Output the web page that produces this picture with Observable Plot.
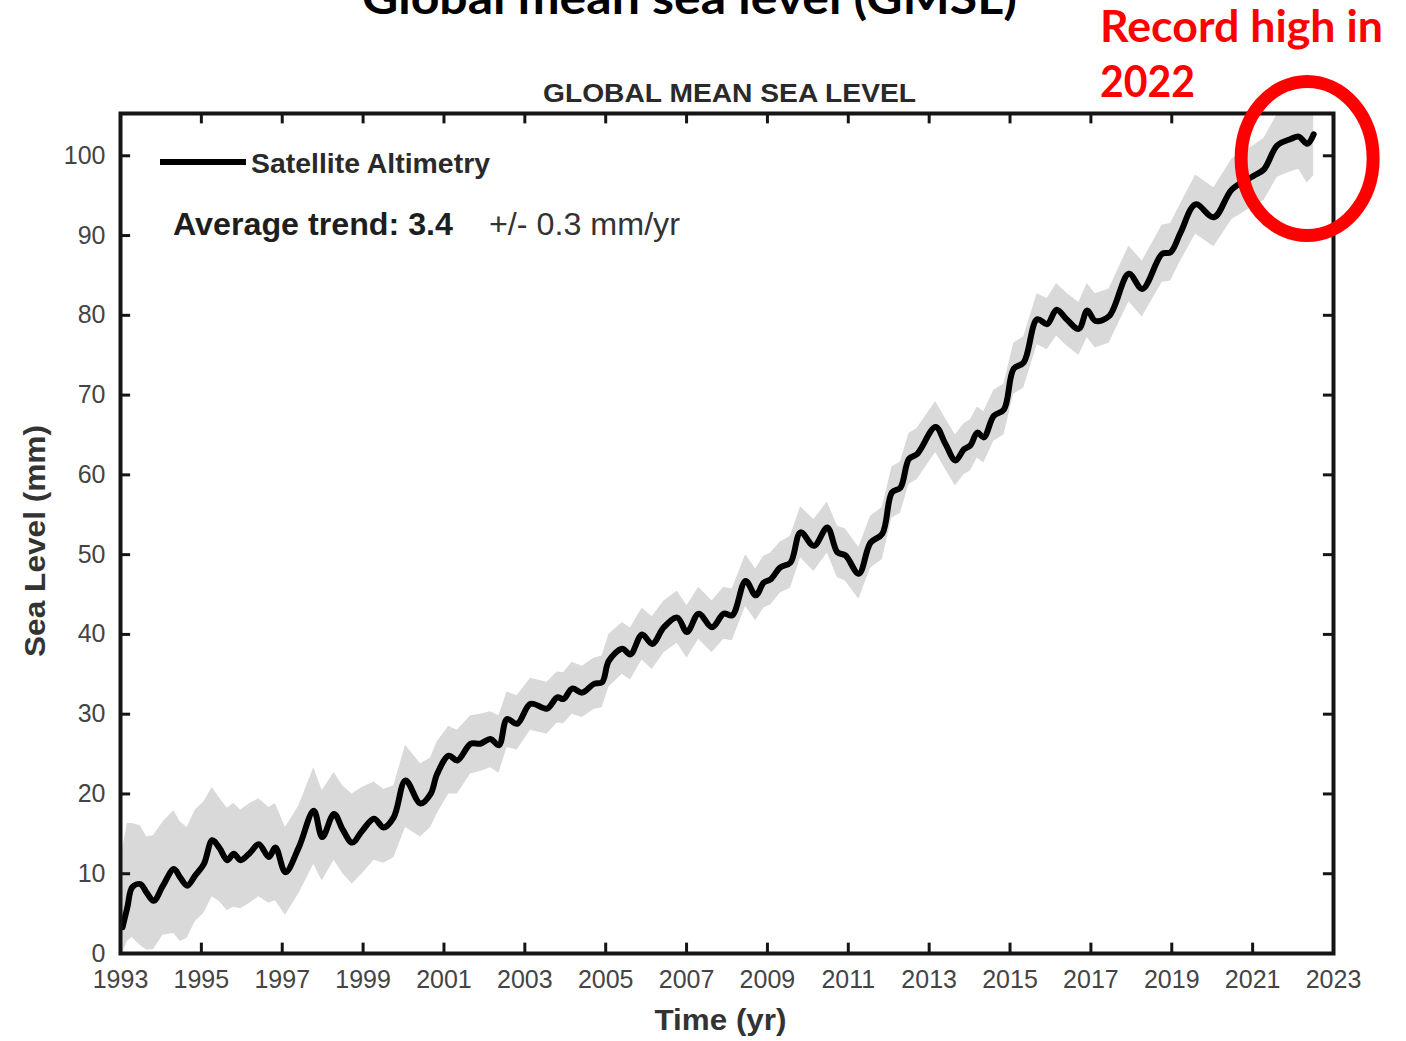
<!DOCTYPE html>
<html>
<head>
<meta charset="utf-8">
<script src="https://cdn.jsdelivr.net/npm/d3@7"></script>
<script src="https://cdn.jsdelivr.net/npm/@observablehq/plot@0.6"></script>
<style>
  html, body { margin: 0; padding: 0; background: #fff; overflow: hidden; }
  #chart { position: relative; width: 1406px; height: 1041px; }
</style>
</head>
<body>
<div id="chart"></div>
<script>
// ---- Data ----
const years = [
  1993.05, 1993.17, 1993.29, 1993.49, 1993.65, 1993.82, 1994.05, 1994.32, 1994.48, 1994.65,
  1994.85, 1995.06, 1995.27, 1995.45, 1995.64, 1995.80, 1995.97, 1996.20, 1996.42, 1996.67,
  1996.83, 1997.08, 1997.41, 1997.78, 1997.99, 1998.28, 1998.50, 1998.73, 1998.98, 1999.27,
  1999.51, 1999.76, 2000.05, 2000.42, 2000.67, 2000.83, 2001.12, 2001.33, 2001.66, 2001.90,
  2002.15, 2002.36, 2002.56, 2002.81, 2003.14, 2003.55, 2003.80, 2003.96, 2004.17, 2004.42,
  2004.71, 2004.91, 2005.08, 2005.41, 2005.61, 2005.90, 2006.15, 2006.44, 2006.77, 2007.01,
  2007.30, 2007.63, 2007.92, 2008.13, 2008.46, 2008.71, 2008.91, 2009.08, 2009.32, 2009.57,
  2009.82, 2010.15, 2010.48, 2010.73, 2010.93, 2011.26, 2011.55, 2011.84, 2012.08, 2012.29,
  2012.50, 2012.70, 2013.16, 2013.40, 2013.65, 2013.86, 2014.02, 2014.19, 2014.35, 2014.60,
  2014.85, 2015.09, 2015.34, 2015.67, 2015.92, 2016.15, 2016.40, 2016.70, 2016.91, 2017.11,
  2017.45, 2017.94, 2018.27, 2018.76, 2018.97, 2019.22, 2019.59, 2020.04, 2020.49, 2021.03,
  2021.28, 2021.61, 2021.94, 2022.14, 2022.35, 2022.51
];
const seaLevel = [
  3.3, 5.8, 8.3, 8.7, 7.6, 6.6, 8.5, 10.6, 9.5, 8.5,
  9.8, 11.2, 14.2, 13.2, 11.7, 12.5, 11.7, 12.6, 13.7, 12.1,
  13.3, 10.2, 13.3, 17.9, 14.6, 17.5, 15.5, 13.9, 15.4, 16.9,
  15.8, 17.1, 21.7, 18.8, 20.0, 22.5, 24.8, 24.2, 26.3, 26.3,
  26.9, 26.1, 29.4, 28.8, 31.3, 30.7, 32.1, 31.9, 33.2, 32.7,
  33.8, 34.0, 36.7, 38.2, 37.5, 40.0, 38.8, 40.9, 42.1, 40.3,
  42.6, 40.9, 42.6, 42.4, 46.7, 44.9, 46.5, 46.9, 48.4, 49.0,
  52.8, 51.1, 53.4, 50.3, 49.9, 47.6, 51.5, 52.6, 57.8, 58.4,
  62.0, 62.6, 66.0, 63.9, 61.8, 63.2, 63.7, 65.3, 64.7, 67.4,
  68.2, 73.3, 74.1, 79.5, 78.9, 80.7, 79.5, 78.3, 80.6, 79.3,
  79.9, 85.2, 83.3, 87.7, 87.9, 90.4, 93.9, 92.3, 95.8, 97.5,
  98.3, 101.3, 102.1, 102.4, 101.5, 102.7
];
const bandLow = [
  0.0, 1.5, 2.0, 1.0, 0.4, 0.5, 2.3, 2.5, 1.5, 1.9,
  4.0, 5.0, 7.1, 6.5, 5.4, 5.8, 5.6, 6.3, 7.1, 6.3,
  6.6, 4.8, 7.5, 11.2, 9.1, 11.7, 10.0, 8.7, 10.0, 11.7,
  11.3, 12.0, 15.8, 14.6, 15.8, 17.5, 20.0, 20.0, 22.5, 22.8,
  23.3, 22.6, 25.8, 25.5, 28.0, 27.5, 28.9, 28.8, 30.0, 29.6,
  30.6, 30.8, 33.4, 35.0, 34.3, 36.8, 35.6, 37.7, 38.9, 37.0,
  39.4, 37.7, 39.4, 39.2, 43.5, 41.7, 43.3, 43.7, 45.2, 45.8,
  49.6, 47.9, 50.2, 47.1, 46.7, 44.4, 48.3, 49.4, 54.6, 55.2,
  58.8, 59.4, 62.8, 60.7, 58.6, 60.0, 60.5, 62.1, 61.5, 64.2,
  65.0, 70.1, 70.9, 76.3, 75.7, 77.4, 76.2, 75.0, 77.2, 75.9,
  76.5, 81.7, 79.8, 84.1, 84.3, 86.8, 90.2, 88.6, 92.0, 93.7,
  94.4, 97.3, 98.0, 98.3, 96.6, 97.5
];
const bandHigh = [
  13.0, 16.3, 16.3, 16.0, 14.6, 14.8, 16.5, 17.9, 16.5, 15.8,
  18.0, 19.0, 20.8, 19.5, 18.2, 18.8, 18.0, 18.8, 19.4, 18.3,
  18.8, 15.8, 18.5, 23.3, 20.4, 22.7, 21.0, 20.0, 20.8, 21.5,
  20.6, 21.0, 26.1, 23.8, 24.5, 26.5, 28.5, 28.0, 29.8, 30.0,
  30.3, 29.8, 32.8, 32.3, 34.5, 34.0, 35.3, 35.2, 36.5, 36.0,
  37.0, 37.3, 40.0, 41.5, 40.8, 43.3, 42.2, 44.2, 45.4, 43.6,
  45.9, 44.2, 45.9, 45.7, 50.0, 48.2, 49.8, 50.2, 51.6, 52.3,
  56.0, 54.4, 56.6, 53.6, 53.2, 50.9, 54.8, 55.9, 61.0, 61.6,
  65.2, 65.8, 69.2, 67.1, 65.0, 66.4, 66.9, 68.5, 67.9, 70.6,
  71.4, 76.5, 77.3, 82.7, 82.1, 84.0, 82.8, 81.6, 84.0, 82.7,
  83.3, 88.7, 86.8, 91.3, 91.5, 94.0, 97.6, 96.0, 99.6, 101.3,
  102.2, 105.2, 106.0, 106.0, 106.0, 105.5
];
const xTickYears  = [1995, 1997, 1999, 2001, 2003, 2005, 2007, 2009, 2011, 2013, 2015, 2017, 2019, 2021];
const xLabelYears = [1993, 1995, 1997, 1999, 2001, 2003, 2005, 2007, 2009, 2011, 2013, 2015, 2017, 2019, 2021, 2023];
const yTickValues  = [10, 20, 30, 40, 50, 60, 70, 80, 90, 100];
const yLabelValues = [0, 10, 20, 30, 40, 50, 60, 70, 80, 90, 100];
const xDomain = [1993, 2023];
const yDomain = [0, 105.3];
const recordPoint = {year: 2022.36, level: 99.6};

// ---- Build chart ----
const rows = years.map((t, i) => ({t, v: seaLevel[i], lo: bandLow[i], hi: bandHigh[i]}));
const dark = "#151515";
const tickX = 0.25, tickY = 1.3;

const svg = Plot.plot({
  width: 1406,
  height: 1041,
  marginLeft: 120,
  marginRight: 73,
  marginTop: 113,
  marginBottom: 88,
  x: {domain: xDomain},
  y: {domain: yDomain},
  style: {fontFamily: "'Liberation Sans', Arial, sans-serif", background: "#fff", overflow: "visible"},
  marks: [
    Plot.areaY(rows, {x: "t", y1: "lo", y2: "hi", fill: "#d9d9d9", clip: true}),
    Plot.line(rows, {x: "t", y: "v", stroke: "#000", strokeWidth: 6, curve: "catmull-rom", clip: true}),
    Plot.ruleX(xTickYears, {y1: yDomain[0], y2: yDomain[0] + tickY, stroke: dark, strokeWidth: 3}),
    Plot.ruleX(xTickYears, {y1: yDomain[1] - tickY, y2: yDomain[1], stroke: dark, strokeWidth: 3}),
    Plot.ruleY(yTickValues, {x1: xDomain[0], x2: xDomain[0] + tickX, stroke: dark, strokeWidth: 3}),
    Plot.ruleY(yTickValues, {x1: xDomain[1] - tickX, x2: xDomain[1], stroke: dark, strokeWidth: 3}),
    Plot.frame({stroke: dark, strokeWidth: 4}),
    Plot.axisX(xLabelYears, {tickSize: 0, tickPadding: 17, fontSize: 25, fill: "#444", label: null, tickFormat: d => String(d)}),
    Plot.axisY(yLabelValues, {tickSize: 0, tickPadding: 15, fontSize: 25, fill: "#444", label: null, tickFormat: d => String(d)})
  ]
});

document.getElementById("chart").appendChild(svg);
const s = d3.select(svg);
const xs = svg.scale("x"), ys = svg.scale("y");

function addText(txt, x, y, opts) {
  const t = s.append("text").attr("x", x).attr("y", y).text(txt)
    .attr("font-family", opts.family || "'Liberation Sans', Arial, sans-serif")
    .attr("font-size", opts.size)
    .attr("font-weight", opts.weight || "normal")
    .attr("fill", opts.fill || "#222")
    .attr("text-anchor", opts.anchor || "start");
  if (opts.len) t.attr("textLength", opts.len).attr("lengthAdjust", "spacingAndGlyphs");
  if (opts.transform) t.attr("transform", opts.transform);
  return t;
}

// Slide title, cut off at the top of the picture
addText("Global mean sea level (GMSL)", 362, 14, {size: 46, weight: "bold", fill: "#000", family: "Lato, 'Open Sans', sans-serif", len: 655});
// Red annotation
addText("Record high in", 1100, 42, {size: 44, weight: "bold", fill: "#ff0000", family: "Lato, 'Open Sans', sans-serif", len: 283});
addText("2022", 1100, 97, {size: 44, weight: "bold", fill: "#ff0000", family: "Lato, 'Open Sans', sans-serif", len: 95});

// Chart title
addText("GLOBAL MEAN SEA LEVEL", 543, 102, {size: 25, weight: "bold", fill: "#2a2a2a", len: 373});

// Legend
s.append("line").attr("x1", 160).attr("x2", 246).attr("y1", 162).attr("y2", 162)
  .attr("stroke", "#000").attr("stroke-width", 6);
addText("Satellite Altimetry", 251, 173, {size: 28, weight: "bold", fill: "#2a2a2a", len: 239});
addText("Average trend: 3.4", 173, 235, {size: 31, weight: "bold", fill: "#1e1e1e", len: 280});
addText("+/- 0.3 mm/yr", 489, 235, {size: 31, fill: "#333", len: 191});

// Axis titles
addText("Time (yr)", 720.5, 1030, {size: 30, weight: "bold", fill: "#333", anchor: "middle", len: 132});
addText("Sea Level (mm)", 0, 0, {size: 30, weight: "bold", fill: "#333", anchor: "middle", len: 232,
  transform: "translate(45,541) rotate(-90)"});

// Red ellipse around the record high
s.append("ellipse")
  .attr("cx", xs.apply(recordPoint.year))
  .attr("cy", ys.apply(recordPoint.level))
  .attr("rx", 66).attr("ry", 77)
  .attr("fill", "none").attr("stroke", "#ff0000").attr("stroke-width", 13);
</script>
</body>
</html>
